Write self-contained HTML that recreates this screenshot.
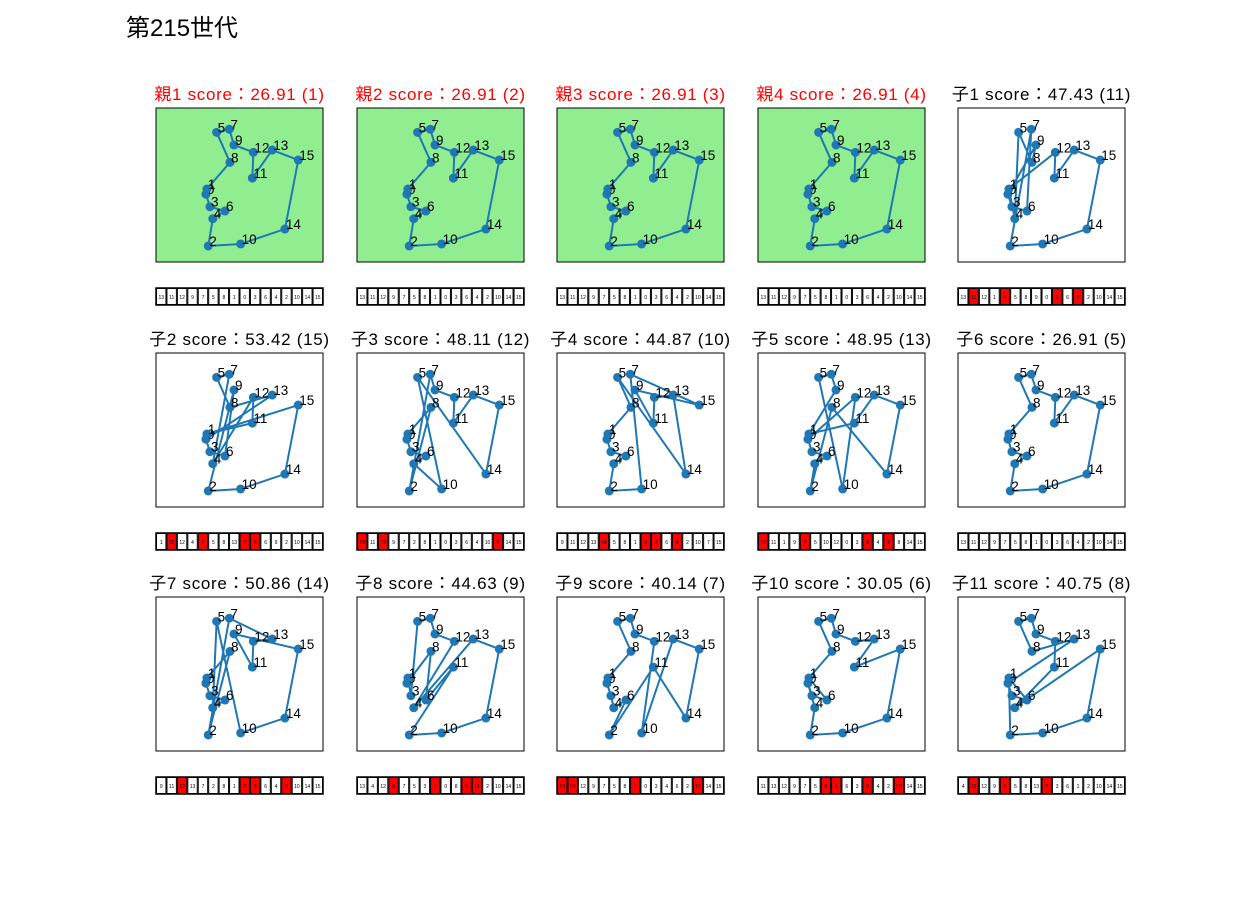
<!DOCTYPE html>
<html><head><meta charset="utf-8">
<style>
body{margin:0;background:#fff;width:1250px;height:900px;overflow:hidden;font-family:"Liberation Sans","Noto Sans CJK JP",sans-serif;}
#fig{position:absolute;left:0;top:0}
</style></head>
<body>
<svg id="fig" width="1250" height="900" xmlns="http://www.w3.org/2000/svg">
<text x="126" y="36" font-size="24" font-family="Liberation Sans, Noto Sans CJK JP, sans-serif">第215世代</text>
</svg>
<script>
// node coordinates (data units 0..100)
const nodeX = [29.9,30.5,31.3,32.3,34.0,36.3,41.3,43.9,44.3,46.7,50.7,57.7,58.3,69.6,77.2,85.2];
const nodeY = [56.0,52.6,89.6,64.1,71.9,15.8,66.9,13.8,35.3,24.0,88.3,45.5,28.8,27.3,78.6,33.8];
const titles = ["親1 score：26.91 (1)","親2 score：26.91 (2)","親3 score：26.91 (3)","親4 score：26.91 (4)","子1 score：47.43 (11)",
"子2 score：53.42 (15)","子3 score：48.11 (12)","子4 score：44.87 (10)","子5 score：48.95 (13)","子6 score：26.91 (5)",
"子7 score：50.86 (14)","子8 score：44.63 (9)","子9 score：40.14 (7)","子10 score：30.05 (6)","子11 score：40.75 (8)"];
const P=[13,11,12,9,7,5,8,1,0,3,6,4,2,10,14,15];
const tours = [P,P,P,P,
[13,11,12,1,4,5,8,9,0,3,6,7,2,10,14,15],
[1,11,12,4,7,5,8,13,0,3,6,9,2,10,14,15],
[13,11,12,9,7,2,8,1,0,3,6,4,10,5,14,15],
[9,11,12,13,14,5,8,1,0,3,6,4,2,10,7,15],
[13,11,1,9,7,5,10,12,0,3,6,4,2,8,14,15],
P,
[9,11,12,13,7,2,8,1,0,3,6,4,5,10,14,15],
[13,4,12,9,7,5,3,1,0,8,6,11,2,10,14,15],
[13,10,12,9,7,5,8,1,0,3,4,6,2,11,14,15],
[11,13,12,9,7,5,8,1,6,3,0,4,2,10,14,15],
[4,11,12,9,7,5,8,13,0,3,6,1,2,10,14,15]];
const mutated = [[],[],[],[],[1,4,9,11],[1,4,8,9],[0,2,13],[4,8,9,11],[0,4,10,12],[],[2,8,9,12],[3,7,10,11],[0,1,7,13],[6,7,10,13],[1,4,8]];

const NS="http://www.w3.org/2000/svg";
const svg=document.getElementById('fig');
function mk(tag,attrs,parent){const e=document.createElementNS(NS,tag);for(const k in attrs)e.setAttribute(k,attrs[k]);(parent||svg).appendChild(e);return e;}
const colX=[156,357,557,758,958], rowY=[108,353,597], W=167, H=154;
for(let i=0;i<15;i++){
  const c=i%5,r=Math.floor(i/5),x0=colX[c],y0=rowY[r];
  const sx=v=>x0+v/100*W, sy=v=>y0+v/100*H;
  const g=mk('g',{});
  
  
  const t=mk('text',{x:x0+W/2,y:y0-8,'text-anchor':'middle','font-size':17,'letter-spacing':0.7,fill:i<4?'#ff0000':'#000'},g);
  t.textContent=titles[i];
  
  
  const bg=mk('rect',{x:x0,y:y0,width:W,height:H,fill:i<4?'#90ee90':'#fff',stroke:'#000','stroke-width':1},g);
  
  
  const tr=tours[i];
  let pts=tr.map(n=>sx(nodeX[n])+','+sy(nodeY[n]));pts.push(pts[0]);
  const pl=mk('polyline',{points:pts.join(' '),fill:'none',stroke:'#1f77b4','stroke-width':2},g);
  
  
  for(let n=0;n<16;n++){
    const cc=mk('circle',{cx:sx(nodeX[n]),cy:sy(nodeY[n]),r:4.5,fill:'#1f77b4'},g);
    
    
    const lb=mk('text',{x:sx(nodeX[n])+1,y:sy(nodeY[n]),'font-size':13.5,fill:'#000'},g);
    lb.textContent=n;
    
    
  }
  // gene strip
  const syTop=y0+180, cw=W/16;
  const sg=mk('g',{});
  
  
  for(let k=0;k<16;k++){
    const red=mutated[i].includes(k);
    const rc=mk('rect',{x:x0+k*cw+0.5,y:syTop+0.5,width:cw-1,height:16,fill:red?'#ff0000':'#fff',stroke:'#000','stroke-width':1},sg);
    
    
    const tx=mk('text',{x:x0+k*cw+cw/2,y:syTop+11,'text-anchor':'middle','font-size':5,fill:'#000'},sg);
    tx.textContent=tr[k];
    
    
  }
  mk('rect',{x:x0,y:syTop,width:W,height:17,fill:'none',stroke:'#000','stroke-width':1.5},sg);
}
</script>
</body></html>
